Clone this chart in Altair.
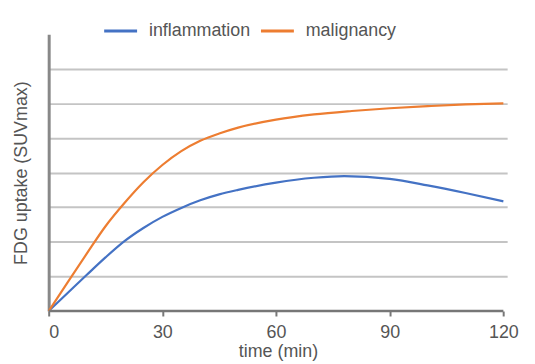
import altair as alt
import pandas as pd

t_inflam = [0, 5, 10, 15, 20, 25, 30, 35, 40, 45, 50, 60, 70, 78, 90, 100, 110, 120]
v_inflam = [0, 0.52, 1.04, 1.55, 2.02, 2.4, 2.72, 2.98, 3.2, 3.37, 3.5, 3.71, 3.85, 3.9, 3.82, 3.63, 3.41, 3.17]
t_malig = [0, 5, 10, 15, 20, 25, 30, 35, 40, 45, 50, 60, 70, 80, 90, 100, 110, 120]
v_malig = [0, 0.83, 1.65, 2.45, 3.12, 3.72, 4.22, 4.62, 4.92, 5.13, 5.3, 5.53, 5.68, 5.78, 5.86, 5.92, 5.97, 6.0]
series = ["inflammation", "malignancy"]
colors = ["#4472c4", "#ed7d31"]
x_ticks = [0, 30, 60, 90, 120]
y_grid = [1, 2, 3, 4, 5, 6, 7]

df = pd.concat([
    pd.DataFrame({"time": t_inflam, "value": v_inflam, "series": series[0]}),
    pd.DataFrame({"time": t_malig, "value": v_malig, "series": series[1]}),
])

FONT = "Liberation Sans"
TXT = "#555555"

x = alt.X("time:Q", scale=alt.Scale(domain=[0, 121], nice=False),
          axis=alt.Axis(title="time (min)", values=x_ticks, domain=False, grid=False))
y = alt.Y("value:Q", scale=alt.Scale(domain=[0, 8], nice=False),
          axis=alt.Axis(title="FDG uptake (SUVmax)", values=y_grid, labels=False,
                        ticks=False, grid=True))

lines = alt.Chart(df).mark_line(strokeWidth=2.2, interpolate="monotone").encode(
    x=x, y=y,
    color=alt.Color("series:N", scale=alt.Scale(domain=series, range=colors),
                    legend=alt.Legend(title=None, orient="none", legendX=54, legendY=-22,
                                      direction="horizontal", symbolType="stroke",
                                      symbolSize=1100, symbolStrokeWidth=3,
                                      labelFont=FONT, labelFontSize=18, labelColor=TXT,
                                      labelOffset=10, columnPadding=3)),
)

xaxis = alt.Chart(pd.DataFrame({"a": [0]})).mark_rule(color="#777777", strokeWidth=2.5).encode(
    x=alt.datum(0), x2=alt.datum(120), y=alt.datum(0))

chart = alt.layer(lines, xaxis).properties(
    width=462, height=279,
    padding={"left": 41, "top": 25, "right": 20, "bottom": 50},
    autosize=alt.AutoSizeParams(type="none"),
).configure_view(stroke=None).configure_axisX(
    tickColor="#777777", tickWidth=2, tickSize=5,
    labelFont=FONT, labelFontSize=18, labelColor=TXT, labelPadding=8,
    titleFont=FONT, titleFontSize=18, titleColor=TXT, titleFontWeight="normal",
    titlePadding=1, grid=False, domain=False,
).configure_axisY(
    domainColor="#888888", domainWidth=3, gridColor="#c4c4c4", gridWidth=2,
    titleFont=FONT, titleFontSize=18, titleColor=TXT, titleFontWeight="normal",
    titlePadding=18, ticks=False, labels=False, grid=True,
)

chart.save("out.html", embed_options={"renderer": "svg", "actions": False})
